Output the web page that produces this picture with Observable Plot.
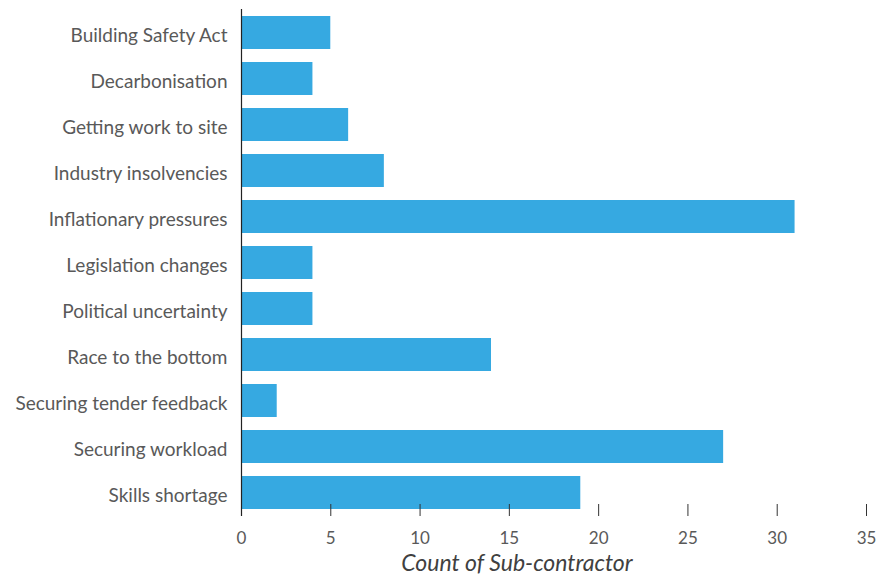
<!DOCTYPE html>
<html><head><meta charset="utf-8">
<script src="https://cdn.jsdelivr.net/npm/d3@7"></script>
<script src="https://cdn.jsdelivr.net/npm/@observablehq/plot@0.6"></script>
<style>body{margin:0;background:#fff}</style>
</head><body><div id="chart"></div>
<script>
const categories = ["Building Safety Act","Decarbonisation","Getting work to site","Industry insolvencies","Inflationary pressures","Legislation changes","Political uncertainty","Race to the bottom","Securing tender feedback","Securing workload","Skills shortage"];
const counts = [5,4,6,8,31,4,4,14,2,27,19];
const xTicks = [0,5,10,15,20,25,30,35];
const axisTitle = "Count of Sub-contractor";
const data = categories.map((c,i)=>({category:c,count:counts[i]}));
const font = "Lato, 'Open Sans', sans-serif";
const chart = Plot.plot({
  width: 879, height: 579,
  marginTop: 9, marginBottom: 63, marginLeft: 241, marginRight: 13,
  style: {fontFamily: font, fontSize: "19px", color: "#595959", background: "#fff"},
  x: {domain: [0,35], ticks: xTicks},
  y: {domain: categories, paddingInner: 0.28, paddingOuter: 0.125},
  marks: [
    Plot.barX(data, {x: "count", y: "category", fill: "#36A9E1"}),
    Plot.axisY({tickSize: 0, tickPadding: 14, dy: 3, label: null, fontSize: 19, fill: "#595959"}),
    Plot.axisX({tickSize: -12, tickPadding: 27, label: null, fontSize: 17, fill: "#595959", stroke: "#333"}),
    Plot.ruleY([0], {frameAnchor: "bottom", stroke: "#222", strokeWidth: 1.5}),
    Plot.ruleX([0], {stroke: "#222", strokeWidth: 1.2}),
    Plot.text([axisTitle], {frameAnchor: "bottom", lineAnchor: "middle", dx: -37, dy: 47, fontSize: 23, fontStyle: "italic", fill: "#404040"})
  ]
});
document.getElementById("chart").appendChild(chart);
</script></body></html>
